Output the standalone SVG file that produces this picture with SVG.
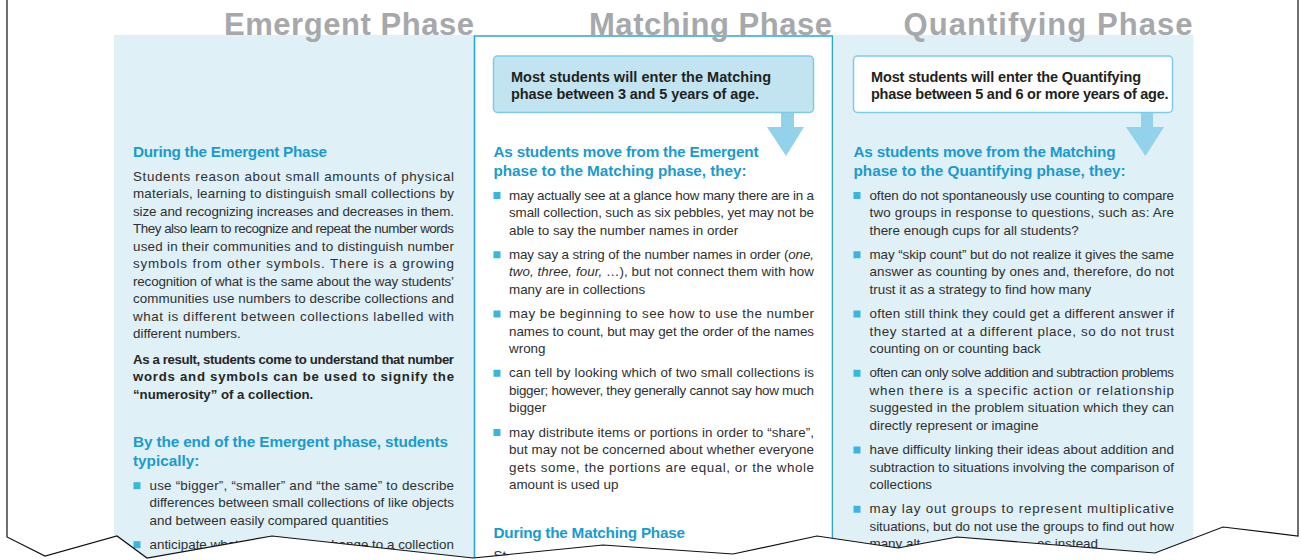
<svg xmlns="http://www.w3.org/2000/svg" width="1302" height="560" viewBox="0 0 1302 560">
<style>
text{font-family:"Liberation Sans",Arial,sans-serif}
.title{font-weight:bold;font-size:31px;fill:#a6a8ab}
.h{font-weight:bold;font-size:15.3px;fill:#1a9bd0}
.b{font-size:13.4px;fill:#2f2f2f}
.bb{font-size:13.2px;font-weight:bold;fill:#262626}
.call{font-weight:bold;font-size:14.5px;fill:#231f20}
.sq{fill:#3ab5de}
.i{font-style:italic}
.colbg{fill:#dff0f7}
.arrow{fill:#93d2eb}
</style>
<rect width="1302" height="560" fill="#ffffff"/>

<g id="col-emergent">
<rect class="colbg" x="114" y="35" width="360.5" height="525"/>
<text class="h" x="133" y="156.7" textLength="194" lengthAdjust="spacing">During the Emergent Phase</text>
<text class="b" x="133" y="180.5" textLength="321" lengthAdjust="spacing">Students reason about small amounts of physical</text>
<text class="b" x="133" y="198" textLength="321" lengthAdjust="spacing">materials, learning to distinguish small collections by</text>
<text class="b" x="133" y="215.5" textLength="321" lengthAdjust="spacing">size and recognizing increases and decreases in them.</text>
<text class="b" x="133" y="233" textLength="321" lengthAdjust="spacing">They also learn to recognize and repeat the number words</text>
<text class="b" x="133" y="250.5" textLength="321" lengthAdjust="spacing">used in their communities and to distinguish number</text>
<text class="b" x="133" y="268" textLength="321" lengthAdjust="spacing">symbols from other symbols. There is a growing</text>
<text class="b" x="133" y="285.5" textLength="321" lengthAdjust="spacing">recognition of what is the same about the way students’</text>
<text class="b" x="133" y="303" textLength="321" lengthAdjust="spacing">communities use numbers to describe collections and</text>
<text class="b" x="133" y="320.5" textLength="321" lengthAdjust="spacing">what is different between collections labelled with</text>
<text class="b" x="133" y="338">different numbers.</text>
<text class="bb" x="133" y="363.7" textLength="321" lengthAdjust="spacing">As a result, students come to understand that number</text>
<text class="bb" x="133" y="381.2" textLength="321" lengthAdjust="spacing">words and symbols can be used to signify the</text>
<text class="bb" x="133" y="398.7">“numerosity” of a collection.</text>
<text class="h" x="133" y="446.7" textLength="315" lengthAdjust="spacing">By the end of the Emergent phase, students</text>
<text class="h" x="133" y="465.7">typically:</text>
<rect class="sq" x="133.5" y="482.2" width="7" height="7"/>
<text class="b" x="149.5" y="489.7" textLength="304.5" lengthAdjust="spacing">use “bigger”, “smaller” and “the same” to describe</text>
<text class="b" x="149.5" y="507.2" textLength="304.5" lengthAdjust="spacing">differences between small collections of like objects</text>
<text class="b" x="149.5" y="524.7">and between easily compared quantities</text>
<rect class="sq" x="133.5" y="541.2" width="7" height="7"/>
<text class="b" x="149.5" y="548.7">anticipate whet</text>
<text class="b" x="454" y="548.7" text-anchor="end">hange to a collection</text>
</g>

<g id="col-matching">
<path d="M474.5,560 V36 H832.5 V560" fill="#ffffff" stroke="#2aa7d9" stroke-width="1.6"/>
<text class="h" x="493.5" y="156.7" textLength="265" lengthAdjust="spacing">As students move from the Emergent</text>
<text class="h" x="493.5" y="175.7" textLength="253" lengthAdjust="spacing">phase to the Matching phase, they:</text>
<rect class="sq" x="493.5" y="192" width="7" height="7"/>
<text class="b" x="509" y="199.5" textLength="305" lengthAdjust="spacing">may actually see at a glance how many there are in a</text>
<text class="b" x="509" y="217" textLength="305" lengthAdjust="spacing">small collection, such as six pebbles, yet may not be</text>
<text class="b" x="509" y="234.5">able to say the number names in order</text>
<rect class="sq" x="493.5" y="251.25" width="7" height="7"/>
<text class="b" x="509" y="258.75" textLength="305" lengthAdjust="spacing">may say a string of the number names in order (<tspan class="i">one,</tspan></text>
<text class="b" x="509" y="276.25" textLength="305" lengthAdjust="spacing"><tspan class="i">two, three, four,</tspan> …), but not connect them with how</text>
<text class="b" x="509" y="293.75">many are in collections</text>
<rect class="sq" x="493.5" y="310.5" width="7" height="7"/>
<text class="b" x="509" y="318" textLength="305" lengthAdjust="spacing">may be beginning to see how to use the number</text>
<text class="b" x="509" y="335.5" textLength="305" lengthAdjust="spacing">names to count, but may get the order of the names</text>
<text class="b" x="509" y="353">wrong</text>
<rect class="sq" x="493.5" y="369.75" width="7" height="7"/>
<text class="b" x="509" y="377.25" textLength="305" lengthAdjust="spacing">can tell by looking which of two small collections is</text>
<text class="b" x="509" y="394.75" textLength="305" lengthAdjust="spacing">bigger; however, they generally cannot say how much</text>
<text class="b" x="509" y="412.25">bigger</text>
<rect class="sq" x="493.5" y="429" width="7" height="7"/>
<text class="b" x="509" y="436.5" textLength="305" lengthAdjust="spacing">may distribute items or portions in order to “share”,</text>
<text class="b" x="509" y="454" textLength="305" lengthAdjust="spacing">but may not be concerned about whether everyone</text>
<text class="b" x="509" y="471.5" textLength="305" lengthAdjust="spacing">gets some, the portions are equal, or the whole</text>
<text class="b" x="509" y="489">amount is used up</text>
<text class="h" x="493.5" y="537.7" textLength="191.5" lengthAdjust="spacing">During the Matching Phase</text>
<text class="b" x="493.5" y="559.5">St</text>
</g>

<g id="col-quantifying">
<rect class="colbg" x="833.3" y="35" width="360" height="525"/>
<text class="h" x="853.5" y="156.7" textLength="262" lengthAdjust="spacing">As students move from the Matching</text>
<text class="h" x="853.5" y="175.7" textLength="272" lengthAdjust="spacing">phase to the Quantifying phase, they:</text>
<rect class="sq" x="853.5" y="192" width="7" height="7"/>
<text class="b" x="869.5" y="199.5" textLength="304.5" lengthAdjust="spacing">often do not spontaneously use counting to compare</text>
<text class="b" x="869.5" y="217" textLength="304.5" lengthAdjust="spacing">two groups in response to questions, such as: Are</text>
<text class="b" x="869.5" y="234.5">there enough cups for all students?</text>
<rect class="sq" x="853.5" y="251.25" width="7" height="7"/>
<text class="b" x="869.5" y="258.75" textLength="304.5" lengthAdjust="spacing">may “skip count” but do not realize it gives the same</text>
<text class="b" x="869.5" y="276.25" textLength="304.5" lengthAdjust="spacing">answer as counting by ones and, therefore, do not</text>
<text class="b" x="869.5" y="293.75">trust it as a strategy to find how many</text>
<rect class="sq" x="853.5" y="310.5" width="7" height="7"/>
<text class="b" x="869.5" y="318" textLength="304.5" lengthAdjust="spacing">often still think they could get a different answer if</text>
<text class="b" x="869.5" y="335.5" textLength="304.5" lengthAdjust="spacing">they started at a different place, so do not trust</text>
<text class="b" x="869.5" y="353">counting on or counting back</text>
<rect class="sq" x="853.5" y="369.75" width="7" height="7"/>
<text class="b" x="869.5" y="377.25" textLength="304.5" lengthAdjust="spacing">often can only solve addition and subtraction problems</text>
<text class="b" x="869.5" y="394.75" textLength="304.5" lengthAdjust="spacing">when there is a specific action or relationship</text>
<text class="b" x="869.5" y="412.25" textLength="304.5" lengthAdjust="spacing">suggested in the problem situation which they can</text>
<text class="b" x="869.5" y="429.75">directly represent or imagine</text>
<rect class="sq" x="853.5" y="446.5" width="7" height="7"/>
<text class="b" x="869.5" y="454" textLength="304.5" lengthAdjust="spacing">have difficulty linking their ideas about addition and</text>
<text class="b" x="869.5" y="471.5" textLength="304.5" lengthAdjust="spacing">subtraction to situations involving the comparison of</text>
<text class="b" x="869.5" y="489">collections</text>
<rect class="sq" x="853.5" y="505.75" width="7" height="7"/>
<text class="b" x="869.5" y="513.25" textLength="304.5" lengthAdjust="spacing">may lay out groups to represent multiplicative</text>
<text class="b" x="869.5" y="530.75" textLength="304.5" lengthAdjust="spacing">situations, but do not use the groups to find out how</text>
<text class="b" x="869.5" y="548.25">many alt</text>
<text class="b" x="1098" y="548.25" text-anchor="end">es instead</text>
</g>

<g id="connectors">
<path class="arrow" d="M781,112 H794 V127 H804 L786,156 L767,127 H781 Z"/>
<path class="arrow" d="M1141,112 H1153 V127 H1164 L1145.5,156 L1126,127 H1141 Z"/>
</g>

<g id="callout-matching">
<rect x="493.5" y="56" width="320" height="56.5" rx="4" fill="#c2e4f1" stroke="#7ccbe8" stroke-width="1.5"/>
<text class="call" x="511" y="81.5" textLength="260" lengthAdjust="spacing">Most students will enter the Matching</text>
<text class="call" x="511" y="99" textLength="248" lengthAdjust="spacing">phase between 3 and 5 years of age.</text>
</g>

<g id="callout-quantifying">
<rect x="853.5" y="56" width="319" height="56.5" rx="4" fill="#ffffff" stroke="#7ccbe8" stroke-width="1.5"/>
<text class="call" x="871" y="81.5" textLength="270" lengthAdjust="spacing">Most students will enter the Quantifying</text>
<text class="call" x="871" y="99" textLength="297.5" lengthAdjust="spacing">phase between 5 and 6 or more years of age.</text>
</g>

<g id="titles">
<text class="title" x="224" y="34.5" textLength="250" lengthAdjust="spacing">Emergent Phase</text>
<text class="title" x="589" y="34.5" textLength="243" lengthAdjust="spacing">Matching Phase</text>
<text class="title" x="903.5" y="34.5" textLength="289" lengthAdjust="spacing">Quantifying Phase</text>
</g>

<g id="page-tear">
<polygon points="7,537 45,556 117,536 147,558 272,536 473,558 603,545 733,554 817,536 898,548 957,537 1155,553 1223,527 1298,536 1302,536 1302,560 0,560 0,537" fill="#ffffff"/>
<path d="M7,0 V537 L45,556 L117,536 L147,558 L272,536 L473,558 L603,545 L733,554 L817,536 L898,548 L957,537 L1155,553 L1223,527 L1298,536 V0" fill="none" stroke="#111111" stroke-width="1.2" stroke-linejoin="miter"/>
</g>
</svg>
